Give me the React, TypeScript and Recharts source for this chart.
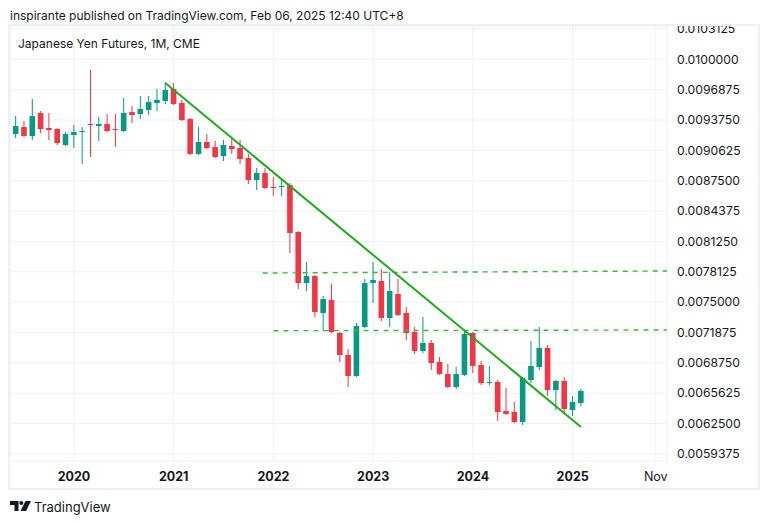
import React from 'react';
import { ComposedChart, Bar, XAxis, YAxis, CartesianGrid, ReferenceLine } from 'recharts';

const months = [
  '2019-06', '2019-07', '2019-08', '2019-09', '2019-10', '2019-11', '2019-12',
  '2020-01', '2020-02', '2020-03', '2020-04', '2020-05', '2020-06', '2020-07', '2020-08', '2020-09', '2020-10', '2020-11', '2020-12',
  '2021-01', '2021-02', '2021-03', '2021-04', '2021-05', '2021-06', '2021-07', '2021-08', '2021-09', '2021-10', '2021-11', '2021-12',
  '2022-01', '2022-02', '2022-03', '2022-04', '2022-05', '2022-06', '2022-07', '2022-08', '2022-09', '2022-10', '2022-11', '2022-12',
  '2023-01', '2023-02', '2023-03', '2023-04', '2023-05', '2023-06', '2023-07', '2023-08', '2023-09', '2023-10', '2023-11', '2023-12',
  '2024-01', '2024-02', '2024-03', '2024-04', '2024-05', '2024-06', '2024-07', '2024-08', '2024-09', '2024-10', '2024-11', '2024-12',
  '2025-01', '2025-02',
];

const opens = [
  0.0092311, 0.0093031, 0.0092105, 0.0094473, 0.0092928, 0.0092825, 0.0091178,
  0.0092208, 0.0092517, 0.0093340, 0.0093134, 0.0093340, 0.0092825, 0.0092620, 0.0094575, 0.0094370, 0.0094781, 0.0095502, 0.0095708,
  0.0096943, 0.0095502, 0.0093855, 0.0090252, 0.0091487, 0.0090972, 0.0090046, 0.0091075, 0.0090869, 0.0089840, 0.0087575, 0.0088296,
  0.0086854, 0.0086854, 0.0087060, 0.0082222, 0.0076972, 0.0077693, 0.0073886, 0.0075222, 0.0071828, 0.0069563, 0.0067401, 0.0072445,
  0.0076972, 0.0077178, 0.0073371, 0.0075840, 0.0073886, 0.0071931, 0.0069975, 0.0070798, 0.0068843, 0.0067607, 0.0066269, 0.0067504,
  0.0071828, 0.0068534, 0.0066681, 0.0066784, 0.0063798, 0.0063695, 0.0062666, 0.0066990, 0.0068328, 0.0070284, 0.0065960, 0.0066887,
  0.0063901, 0.0064622,
];

const highs = [
  0.0094164, 0.0093649, 0.0095914, 0.0094678, 0.0094473, 0.0092928, 0.0092517,
  0.0093237, 0.0093031, 0.0098899, 0.0094061, 0.0094370, 0.0094370, 0.0096017, 0.0095193, 0.0096222, 0.0096222, 0.0096943, 0.0097458,
  0.0097561, 0.0095811, 0.0093958, 0.0093031, 0.0092311, 0.0091590, 0.0091693, 0.0092002, 0.0091693, 0.0090252, 0.0088810, 0.0088810,
  0.0087884, 0.0087575, 0.0087266, 0.0082325, 0.0079134, 0.0077796, 0.0075634, 0.0076869, 0.0071931, 0.0070181, 0.0072857, 0.0077384,
  0.0079134, 0.0078413, 0.0078104, 0.0077384, 0.0074504, 0.0072445, 0.0073474, 0.0071107, 0.0069357, 0.0068637, 0.0068328, 0.0072137,
  0.0071931, 0.0068946, 0.0068431, 0.0066990, 0.0066166, 0.0064725, 0.0067298, 0.0071004, 0.0072445, 0.0070592, 0.0066990, 0.0067298,
  0.0065342, 0.0066063,
];

const lows = [
  0.0091899, 0.0092002, 0.0091693, 0.0092414, 0.0091693, 0.0091178, 0.0091075,
  0.0090869, 0.0089222, 0.0089943, 0.0091590, 0.0092517, 0.0090972, 0.0092517, 0.0093443, 0.0093855, 0.0094267, 0.0094678, 0.0095399,
  0.0095296, 0.0093649, 0.0090149, 0.0090149, 0.0090766, 0.0089840, 0.0089531, 0.0090252, 0.0089222, 0.0087163, 0.0086545, 0.0086648,
  0.0085927, 0.0085927, 0.0080060, 0.0076354, 0.0076149, 0.0073474, 0.0072034, 0.0071828, 0.0068843, 0.0066269, 0.0067298, 0.0072342,
  0.0074915, 0.0073063, 0.0072445, 0.0073577, 0.0071107, 0.0069666, 0.0069769, 0.0068019, 0.0067504, 0.0066166, 0.0066063, 0.0067401,
  0.0067710, 0.0066475, 0.0066475, 0.0062769, 0.0063387, 0.0062563, 0.0062357, 0.0066681, 0.0068019, 0.0065342, 0.0063901, 0.0063695,
  0.0063284, 0.0064313,
];

const closes = [
  0.0093134, 0.0092105, 0.0094164, 0.0092825, 0.0092723, 0.0091384, 0.0092311,
  0.0092517, 0.0092620, 0.0093237, 0.0093340, 0.0092620, 0.0092723, 0.0094473, 0.0094267, 0.0094884, 0.0095605, 0.0095811, 0.0096840,
  0.0095399, 0.0093752, 0.0090252, 0.0091487, 0.0090869, 0.0089943, 0.0091178, 0.0090766, 0.0089737, 0.0087575, 0.0088296, 0.0086751,
  0.0086751, 0.0086957, 0.0082119, 0.0076972, 0.0077693, 0.0073989, 0.0075325, 0.0071931, 0.0069563, 0.0067401, 0.0072548, 0.0076972,
  0.0077281, 0.0073371, 0.0076149, 0.0073680, 0.0071828, 0.0069975, 0.0070798, 0.0068740, 0.0067607, 0.0066269, 0.0067607, 0.0071725,
  0.0068431, 0.0066681, 0.0066784, 0.0063695, 0.0063490, 0.0062666, 0.0067195, 0.0068431, 0.0070284, 0.0065960, 0.0066887, 0.0064004,
  0.0064725, 0.0065857,
];

const yTicks = [
  0.0059375, 0.00625, 0.0065625, 0.006875, 0.0071875, 0.0075, 0.0078125, 0.008125,
  0.0084375, 0.00875, 0.0090625, 0.009375, 0.0096875, 0.01, 0.0103125,
];
const xTickIndex = [7, 19, 31, 43, 55, 67, 77];
const xTickLabels = ['2020', '2021', '2022', '2023', '2024', '2025', 'Nov'];

const trendLine = [{ x: 17.95, y: 0.0097591 }, { x: 68, y: 0.0062152 }];
const upperLevel = [{ x: 29.7, y: 0.0078003 }, { x: 78.35, y: 0.0078209 }];
const lowerLevel = [{ x: 31, y: 0.0072064 }, { x: 78.35, y: 0.0072136 }];

const data = months.map((m, i) => ({
  i,
  month: m,
  o: opens[i],
  h: highs[i],
  l: lows[i],
  c: closes[i],
  range: [lows[i], highs[i]],
}));

const UP = '#089981';
const DOWN = '#f23645';
const FONT = 'Inter, "Noto Sans", sans-serif';

const Candle = (props: any) => {
  const { x, y, width, height, payload } = props;
  if (!payload || height == null) return null;
  const { o, h, l, c } = payload;
  const ppu = height / (h - l);
  const yOf = (v: number) => y + (h - v) * ppu;
  const cx = x + width / 2;
  const color = c >= o ? UP : DOWN;
  const top = yOf(Math.max(o, c));
  const bot = yOf(Math.min(o, c));
  const bw = 5.6;
  return (
    <g>
      <rect x={cx - 0.5} y={y} width={1} height={Math.max(height, 1)} fill={color} />
      <rect x={cx - bw / 2} y={top} width={bw} height={Math.max(bot - top, 1)} fill={color} />
    </g>
  );
};

const XTick = (props: any) => {
  const { x, y, payload } = props;
  const idx = xTickIndex.indexOf(payload.value);
  const label = xTickLabels[idx] ?? '';
  const bold = label !== 'Nov';
  return (
    <text
      x={x}
      y={y}
      dy={20}
      textAnchor="middle"
      fontFamily={FONT}
      fontSize={12.5}
      fontWeight={bold ? 700 : 400}
      fill="#131722"
    >
      {label}
    </text>
  );
};

const YTick = (props: any) => {
  const { x, y, payload } = props;
  return (
    <text x={x} y={y} dy={4.2} textAnchor="start" fontFamily={FONT} fontSize={12.2} fill="#131722">
      {Number(payload.value).toFixed(7)}
    </text>
  );
};

const Logo = () => (
  <svg width={22} height={11} viewBox="0 0 22 11" style={{ position: 'absolute', left: 10, top: 501 }}>
    <path d="M0 0 H8.5 V10 H4.5 V4 H0 Z" fill="#131722" />
    <circle cx={11.3} cy={2} r={2} fill="#131722" />
    <path d="M15.5 0 H21 L16 10 H10.5 Z" fill="#131722" />
  </svg>
);

export default function App() {
  return (
    <div
      style={{
        position: 'absolute',
        left: 0,
        top: 0,
        width: 768,
        height: 524,
        background: '#ffffff',
        fontFamily: FONT,
        color: '#131722',
        overflow: 'hidden',
      }}
    >
      <div style={{ position: 'absolute', left: 10, top: 7, fontSize: 12, lineHeight: '17px', whiteSpace: 'nowrap' }}>
        inspirante published on TradingView.com, Feb 06, 2025 12:40 UTC+8
      </div>
      <div
        style={{
          position: 'absolute',
          left: 8,
          top: 24,
          width: 748,
          height: 462,
          border: '2px solid #eef0f3',
        }}
      />
      <div style={{ position: 'absolute', left: 10, top: 26, width: 748, height: 462, overflow: 'hidden' }}>
        <ComposedChart width={748} height={462} data={data} margin={{ top: 0, right: 0, bottom: 0, left: 0 }}>
          <CartesianGrid stroke="#eef0f3" strokeWidth={1} />
          <XAxis
            type="number"
            dataKey="i"
            domain={[-0.7, 78.35]}
            allowDataOverflow
            ticks={xTickIndex}
            interval={0}
            tick={<XTick />}
            tickLine={false}
            axisLine={false}
            tickSize={0}
            tickMargin={0}
            height={27}
          />
          <YAxis
            orientation="right"
            domain={[0.0058652, 0.0103428]}
            allowDataOverflow
            ticks={yTicks}
            interval={0}
            tick={<YTick />}
            tickLine={false}
            axisLine={false}
            tickSize={0}
            tickMargin={10}
            width={91}
          />
          <Bar dataKey="range" barSize={6} shape={<Candle />} isAnimationActive={false} />
          <ReferenceLine segment={upperLevel} stroke="#3cb83c" strokeWidth={1.4} strokeDasharray="5 5" ifOverflow="visible" />
          <ReferenceLine segment={lowerLevel} stroke="#3cb83c" strokeWidth={1.4} strokeDasharray="5 5" ifOverflow="visible" />
          <ReferenceLine segment={trendLine} stroke="#1faa1f" strokeWidth={2} ifOverflow="visible" />
        </ComposedChart>
        <div style={{ position: 'absolute', left: 8, top: 9, fontSize: 12, lineHeight: '17px', whiteSpace: 'nowrap' }}>
          Japanese Yen Futures, 1M, CME
        </div>
      </div>
      <Logo />
      <div style={{ position: 'absolute', left: 34, top: 498, fontSize: 13, lineHeight: '18px', whiteSpace: 'nowrap' }}>
        TradingView
      </div>
    </div>
  );
}
